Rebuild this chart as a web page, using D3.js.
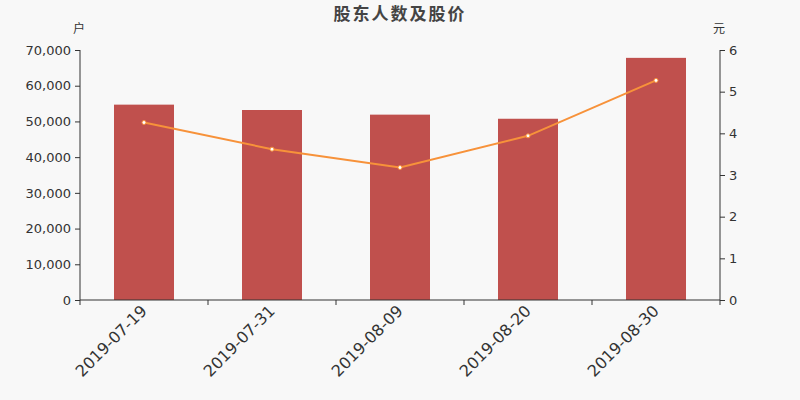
<!DOCTYPE html>
<html><head><meta charset="utf-8">
<script src="https://cdn.jsdelivr.net/npm/d3@7"></script>
<style>body{margin:0;background:#f8f8f8;}svg{display:block;font-family:"DejaVu Sans",sans-serif;}</style>
</head><body><svg id="c" width="800" height="400"></svg>
<script>
const categories = ["2019-07-19","2019-07-31","2019-08-09","2019-08-20","2019-08-30"];
const holders = [54700, 53200, 51900, 50750, 67800];
const prices = [4.26, 3.62, 3.18, 3.94, 5.27];
const leftTicks = [0,10000,20000,30000,40000,50000,60000,70000];
const rightTicks = [0,1,2,3,4,5,6];

const svg = d3.select("#c");
svg.append("rect").attr("width",800).attr("height",400).attr("fill","#f8f8f8");
const L=80,R=720,T=50,B=300;
const x = d3.scaleBand().domain(categories).range([L,R]);
const yL = d3.scaleLinear().domain([0,70000]).range([B,T]);
const yR = d3.scaleLinear().domain([0,6]).range([B,T]);

svg.append("text").attr("x",400).attr("y",20).attr("text-anchor","middle")
  .attr("font-size",17).attr("font-weight","bold").attr("fill","#444").attr("letter-spacing",2)
  .attr("font-family","'Noto Sans CJK SC',sans-serif").text("股东人数及股价");
svg.append("text").attr("x",79).attr("y",33).attr("text-anchor","middle").attr("font-size",12).attr("fill","#333")
  .attr("font-family","'Noto Sans CJK SC',sans-serif").text("户");
svg.append("text").attr("x",719).attr("y",33).attr("text-anchor","middle").attr("font-size",12).attr("fill","#333")
  .attr("font-family","'Noto Sans CJK SC',sans-serif").text("元");

// bars
svg.append("g").selectAll("rect").data(categories).join("rect")
  .attr("x",d=>x(d)+x.bandwidth()/2-30).attr("width",60)
  .attr("y",(d,i)=>yL(holders[i])).attr("height",(d,i)=>B-yL(holders[i]))
  .attr("fill","#c0504d");

// axes
const gl = svg.append("g").attr("transform",`translate(${L},0)`)
  .call(d3.axisLeft(yL).tickValues(leftTicks).tickSize(5).tickPadding(4).tickFormat(d3.format(",")));
const gr = svg.append("g").attr("transform",`translate(${R},0)`)
  .call(d3.axisRight(yR).tickValues(rightTicks).tickSize(5).tickPadding(4).tickFormat(d3.format("d")));
const gx = svg.append("g").attr("transform",`translate(0,${B})`)
  .call(d3.axisBottom(x).tickSize(0).tickFormat(""));
[gl,gr,gx].forEach(g=>{
  g.select(".domain").attr("stroke","#333");
  g.selectAll(".tick line").attr("stroke","#333");
  g.selectAll("text").attr("fill","#333").attr("font-size",13).attr("font-family","'DejaVu Sans',sans-serif");
});
gl.select(".domain").attr("d",`M0,${B}V${T}`);
gr.select(".domain").attr("d",`M0,${B}V${T}`);
gx.select(".domain").attr("d",`M${L},0H${R}`);
// x ticks at band boundaries
const bounds = categories.map(d=>x(d)).concat([x(categories[categories.length-1])+x.bandwidth()]);
gx.selectAll("line.bt").data(bounds).join("line").attr("class","bt")
  .attr("x1",d=>d).attr("x2",d=>d).attr("y1",0).attr("y2",5).attr("stroke","#333");
gx.selectAll("text.lab").data(categories).join("text").attr("class","lab")
  .attr("transform",d=>`translate(${x(d)+x.bandwidth()/2},8) rotate(-45)`)
  .attr("text-anchor","end").attr("dy","0.35em").attr("font-size",16).attr("fill","#333")
  .attr("font-family","'DejaVu Sans',sans-serif").text(d=>d);

// line
const cx = d=>x(d)+x.bandwidth()/2;
svg.append("path").datum(categories)
  .attr("d",d3.line().x(d=>cx(d)).y((d,i)=>yR(prices[i])))
  .attr("fill","none").attr("stroke","#f7923a").attr("stroke-width",2);
svg.append("g").selectAll("circle").data(categories).join("circle")
  .attr("cx",d=>cx(d)).attr("cy",(d,i)=>yR(prices[i])).attr("r",2)
  .attr("fill","#fff").attr("stroke","#f7923a").attr("stroke-width",1);
</script></body></html>
